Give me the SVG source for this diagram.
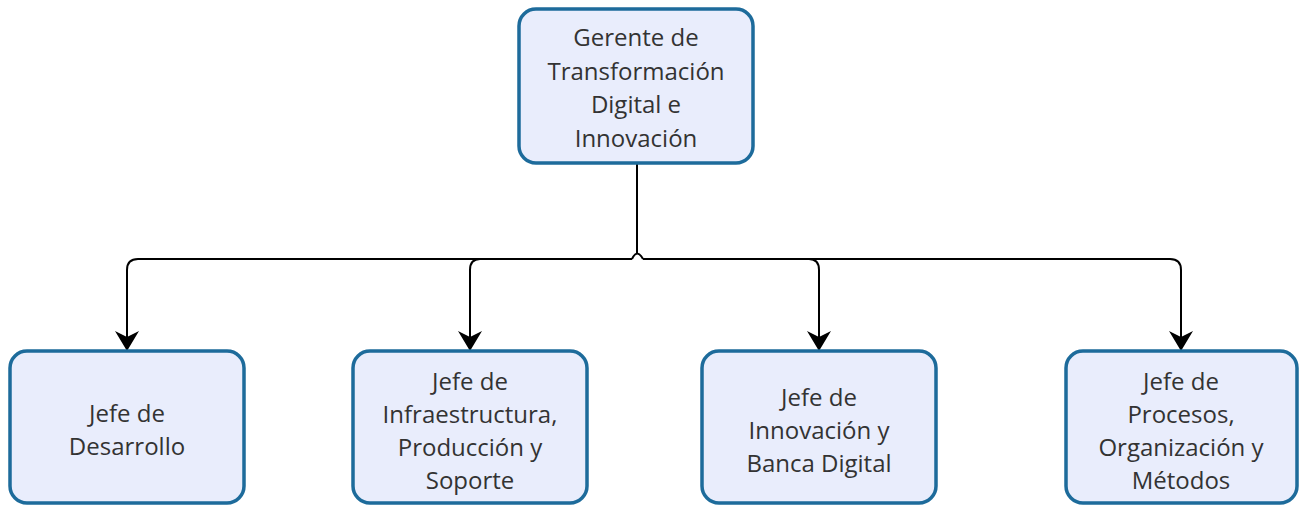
<svg xmlns="http://www.w3.org/2000/svg" width="1303" height="506" viewBox="0 0 1303 506">
<style>
.box{fill:#e9edfc;stroke:#1d6b9b;stroke-width:3.5}
.t{font-family:"Open Sans","Noto Sans",sans-serif;font-size:24px;fill:#333;text-anchor:middle}
.c{fill:none;stroke:#000;stroke-width:2}
</style>
<defs>
<marker id="ah" viewBox="0 0 20 24" refX="19" refY="12" markerWidth="20" markerHeight="24" markerUnits="userSpaceOnUse" orient="auto">
<path d="M0,0 L20,12 L0,24 L6,12 Z" fill="#000"/>
</marker>
</defs>
<rect width="1303" height="506" fill="#fff"/>
<g id="connectors">
<path class="c" d="M637,164 V253"/>
<path class="c" d="M632,259 H138 Q127,259 127,270 V350" marker-end="url(#ah)"/>
<path class="c" d="M632,259 Q637,248 643,259"/>
<path class="c" d="M480,259 Q470,259 470,270 V350" marker-end="url(#ah)"/>
<path class="c" d="M643,259 H1170 Q1181,259 1181,270 V350" marker-end="url(#ah)"/>
<path class="c" d="M809,259 Q819,259 819,270 V350" marker-end="url(#ah)"/>
</g>
<g id="n0">
<rect class="box" x="519" y="9" width="234" height="154" rx="17"/>
<text class="t" x="636" y="46">Gerente de</text>
<text class="t" x="636" y="80">Transformación</text>
<text class="t" x="636" y="113">Digital e</text>
<text class="t" x="636" y="147">Innovación</text>
</g>
<g id="n1">
<rect class="box" x="10" y="351" width="234" height="152" rx="17"/>
<text class="t" x="127" y="422">Jefe de</text>
<text class="t" x="127" y="455">Desarrollo</text>
</g>
<g id="n2">
<rect class="box" x="353" y="351" width="234" height="152" rx="17"/>
<text class="t" x="470" y="390">Jefe de</text>
<text class="t" x="470" y="423">Infraestructura,</text>
<text class="t" x="470" y="456">Producción y</text>
<text class="t" x="470" y="489">Soporte</text>
</g>
<g id="n3">
<rect class="box" x="702" y="351" width="234" height="152" rx="17"/>
<text class="t" x="819" y="406">Jefe de</text>
<text class="t" x="819" y="439">Innovación y</text>
<text class="t" x="819" y="472">Banca Digital</text>
</g>
<g id="n4">
<rect class="box" x="1066" y="351" width="231" height="152" rx="17"/>
<text class="t" x="1181" y="390">Jefe de</text>
<text class="t" x="1181" y="423">Procesos,</text>
<text class="t" x="1181" y="456">Organización y</text>
<text class="t" x="1181" y="489">Métodos</text>
</g>
</svg>
